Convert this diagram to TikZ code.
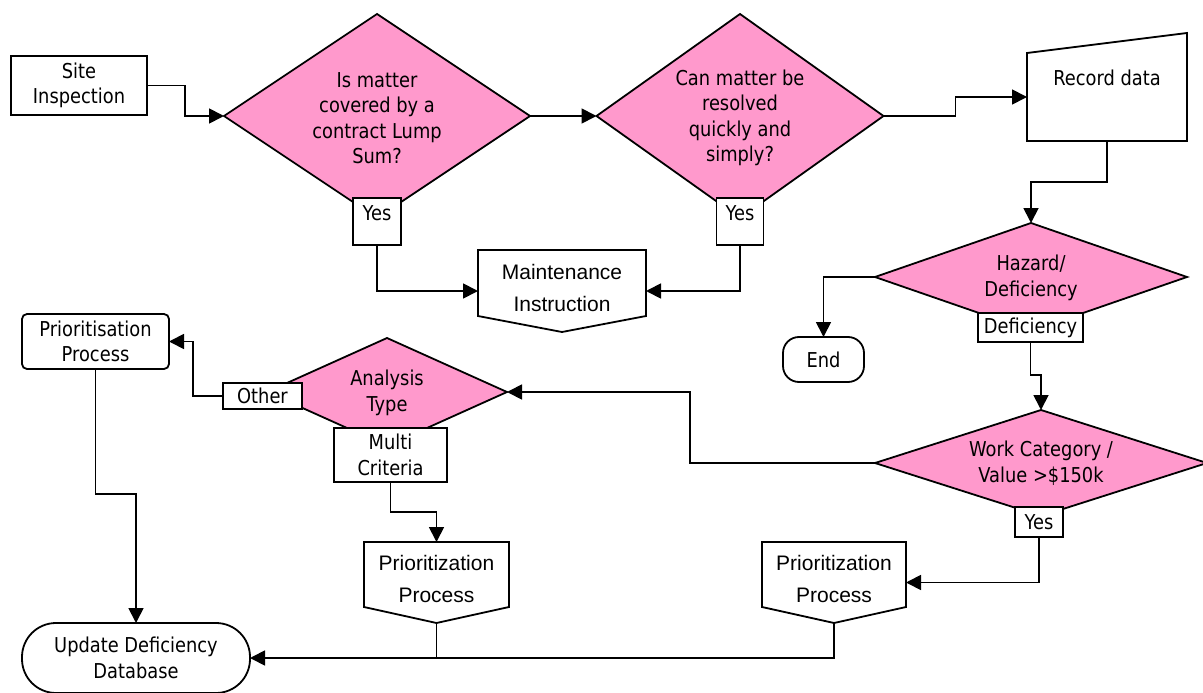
\documentclass[tikz,border=0pt]{standalone}
\usepackage{fontspec}
\setmainfont{Liberation Sans}
\newfontfamily\tah[FakeStretch=0.87]{DejaVu Sans}
\usetikzlibrary{shapes.geometric,arrows.meta,calc}
\definecolor{qpink}{RGB}{255,153,204}

\begin{document}
\begin{tikzpicture}[x=1pt,y=-1pt,
  line width=1.8pt,
  every node/.style={inner sep=0pt, outer sep=0pt},
  tt/.style={font=\tah\fontsize{20.5}{25.5}\selectfont, align=center},
  arialtxt/.style={font=\fontsize{21}{32}\selectfont, align=center},
  decision/.style={diamond, draw, fill=qpink},
  lbl/.style={draw, fill=white, rectangle},
  conn/.style={-{Triangle[length=15pt,width=15pt]}},
]
\fill[white] (0,0) rectangle (1203,693);
\useasboundingbox (0,0) rectangle (1203,693);

% start
\node (si) [draw, minimum width=136pt, minimum height=59pt, tt] at (79,85.5) {Site\\Inspection};

% decisions
\node (d1) [decision, minimum width=306pt, minimum height=204pt] at (377,116) {};
\node (d1t) [tt] at (377,118) {Is matter\\covered by a\\contract Lump\\Sum?};
\node (d2) [decision, minimum width=287pt, minimum height=204pt] at (740,116) {};
\node (d2t) [tt] at (740,118) {Can matter be\\resolved\\quickly and\\simply?};
\node (hz) [decision, minimum width=312pt, minimum height=108pt] at (1031,277) {};
\node (hzt) [tt] at (1031,278) {Hazard/\\Deficiency};
\node (wc) [decision, minimum width=332pt, minimum height=106pt] at (1041,463) {};
\node (wct) [tt] at (1041,463) {Work Category /\\Value >\$150k};
\node (atype) [decision, minimum width=240pt, minimum height=108pt] at (387,392) {};
\node (atypet) [tt] at (387,393) {Analysis\\Type};

% branch labels
\node (y1) [lbl, minimum width=48pt, minimum height=47pt] at (377,221.5) {};
\node (y1t) [tt] at (377,213) {Yes};
\node (y2) [lbl, minimum width=47pt, minimum height=47pt] at (740,221.5) {};
\node (y2t) [tt] at (740,213) {Yes};
\node (def) [lbl, minimum width=105pt, minimum height=29pt, tt] at (1030.5,327.5) {Deficiency};
\node (yw) [lbl, minimum width=48pt, minimum height=30pt, tt] at (1039,522) {Yes};
\node (other) [lbl, minimum width=79pt, minimum height=26pt, tt] at (262.5,396) {Other};
\node (mc) [lbl, minimum width=113pt, minimum height=54pt, tt] at (390.5,455) {Multi\\Criteria};

% manual input
\node (rd) [minimum width=160pt, minimum height=88pt] at (1107,97) {};
\draw[fill=white] (rd.south west) -- (rd.north west) -- ($(rd.north east)+(0,-20)$) -- (rd.south east) -- cycle;
\node (rdt) [tt] at (1107,78) {Record data};

% off-page shapes
\node (mi) [minimum width=168pt, minimum height=82pt] at (562,291) {};
\draw[fill=white] (mi.north west) -- (mi.north east) -- ($(mi.south east)+(0,-16)$) -- (mi.south) -- ($(mi.south west)+(0,-16)$) -- cycle;
\node (mit) [arialtxt] at (562,288) {Maintenance\\Instruction};

\node (pp1) [minimum width=145pt, minimum height=81pt] at (436.5,582.5) {};
\draw[fill=white] (pp1.north west) -- (pp1.north east) -- ($(pp1.south east)+(0,-16)$) -- (pp1.south) -- ($(pp1.south west)+(0,-16)$) -- cycle;
\node (pp1t) [arialtxt] at (436.5,579) {Prioritization\\Process};

\node (pp2) [minimum width=144pt, minimum height=81pt] at (834,582.5) {};
\draw[fill=white] (pp2.north west) -- (pp2.north east) -- ($(pp2.south east)+(0,-16)$) -- (pp2.south) -- ($(pp2.south west)+(0,-16)$) -- cycle;
\node (pp2t) [arialtxt] at (834,579) {Prioritization\\Process};

% terminators and process
\node (end) [draw, rounded corners=16pt, minimum width=81pt, minimum height=45pt, tt] at (823.5,359.5) {End};
\node (prs) [draw, rounded corners=5pt, minimum width=147pt, minimum height=55pt, tt] at (95.5,341.5) {Prioritisation\\Process};
\node (udb) [draw, rounded corners=34pt, minimum width=228pt, minimum height=70pt, tt] at (136,658) {Update Deficiency\\Database};

% connectors
\draw[conn] (si.east) -- ++(38,0) |- (d1.west);
\draw[conn] (d1.east) -- (d2.west);
\draw[conn] (d2.east) -- ++(72,0) |- (rd.west);
\draw[conn] (rd.south) -- ++(0,41) -| (hz.north);
\draw[conn] (hz.west) -| (end.north);
\draw[conn] (def.south) -- ++(0,33) -| (wc.north);
\draw[conn] (wc.west) -- ++(-185,0) |- (atype.east);
\draw[conn] (other.west) -- ++(-30,0) |- (prs.east);
\draw[conn] (prs.south) -- ++(0,125) -| (udb.north);
\draw[conn] (mc.south) -- ++(0,30) -| (pp1.north);
\draw[conn] (y1.south) |- (mi.west);
\draw[conn] (y2.south) |- (mi.east);
\draw[conn] (yw.south) |- (pp2.east);
\draw[conn] (pp2.south) |- (udb.east);
\draw (pp1.south) -- (pp1.south |- udb.east);
\end{tikzpicture}
\end{document}
